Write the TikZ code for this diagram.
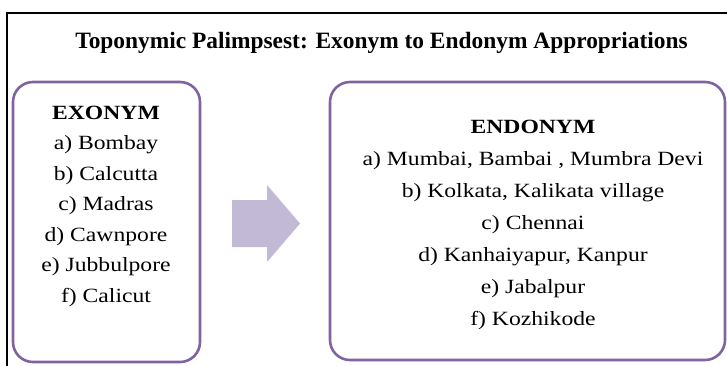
\documentclass[tikz,border=0pt]{standalone}
\usepackage{fontspec}
\setmainfont{Liberation Serif}
\newfontfamily\listfont{Liberation Serif}[FakeStretch=1.17]
\definecolor{boxpurple}{HTML}{8064A2}
\definecolor{arrowfill}{HTML}{C2B9D6}

\begin{document}
\begin{tikzpicture}[x=1pt, y=-1pt,
  frame/.style={line width=1.3pt, draw=black},
  namebox/.style={draw=boxpurple, line width=2.6pt, rounded corners=20pt, inner sep=0pt},
  titletext/.style={font=\fontsize{23.4}{28}\selectfont\bfseries, anchor=base, inner sep=0pt},
  listhead/.style={font=\listfont\fontsize{20.2}{24}\selectfont\bfseries, anchor=base, inner sep=0pt},
  listitem/.style={font=\listfont\fontsize{20.2}{24}\selectfont, anchor=base, inner sep=0pt},
  bigarrow/.style={fill=arrowfill, draw=none}
]
\clip (0,0) rectangle (727,365);
\fill[white] (0,0) rectangle (727,365);

% outer frame, running off the right and bottom edges
\draw[frame] (7,400) -- (7,13) -- (760,13);

% heading
\node[titletext] (title) at (381.5,48) {Toponymic Palimpsest: Exonym to Endonym Appropriations};

% the two name boxes
\node[namebox, minimum width=187pt, minimum height=280pt] (exo) at (106.5,222) {};
\node[namebox, minimum width=395pt, minimum height=278pt] (endo) at (527.5,221) {};

% exonyms
\node[listhead] (exo-h) at (106,119) {EXONYM};
\foreach \t [count=\i] in {a) Bombay, b) Calcutta, c) Madras, d) Cawnpore, e) Jubbulpore, f) Calicut}
  \node[listitem] (exo-\i) at (106,119+30.5*\i) {\t};

% endonyms
\node[listhead] (endo-h) at (533,133) {ENDONYM};
\node[listitem] (endo-1) at (533,165) {a) Mumbai, Bambai , Mumbra Devi};
\node[listitem] (endo-2) at (533,197) {b) Kolkata, Kalikata village};
\node[listitem] (endo-3) at (533,229) {c) Chennai};
\node[listitem] (endo-4) at (533,261) {d) Kanhaiyapur, Kanpur};
\node[listitem] (endo-5) at (533,293) {e) Jabalpur};
\node[listitem] (endo-6) at (533,325) {f) Kozhikode};

% block arrow between the boxes
\fill[bigarrow] (232,200) -- (267,200) -- (267,185) -- (300,223.5)
  -- (267,262) -- (267,247) -- (232,247) -- cycle;
\end{tikzpicture}
\end{document}
